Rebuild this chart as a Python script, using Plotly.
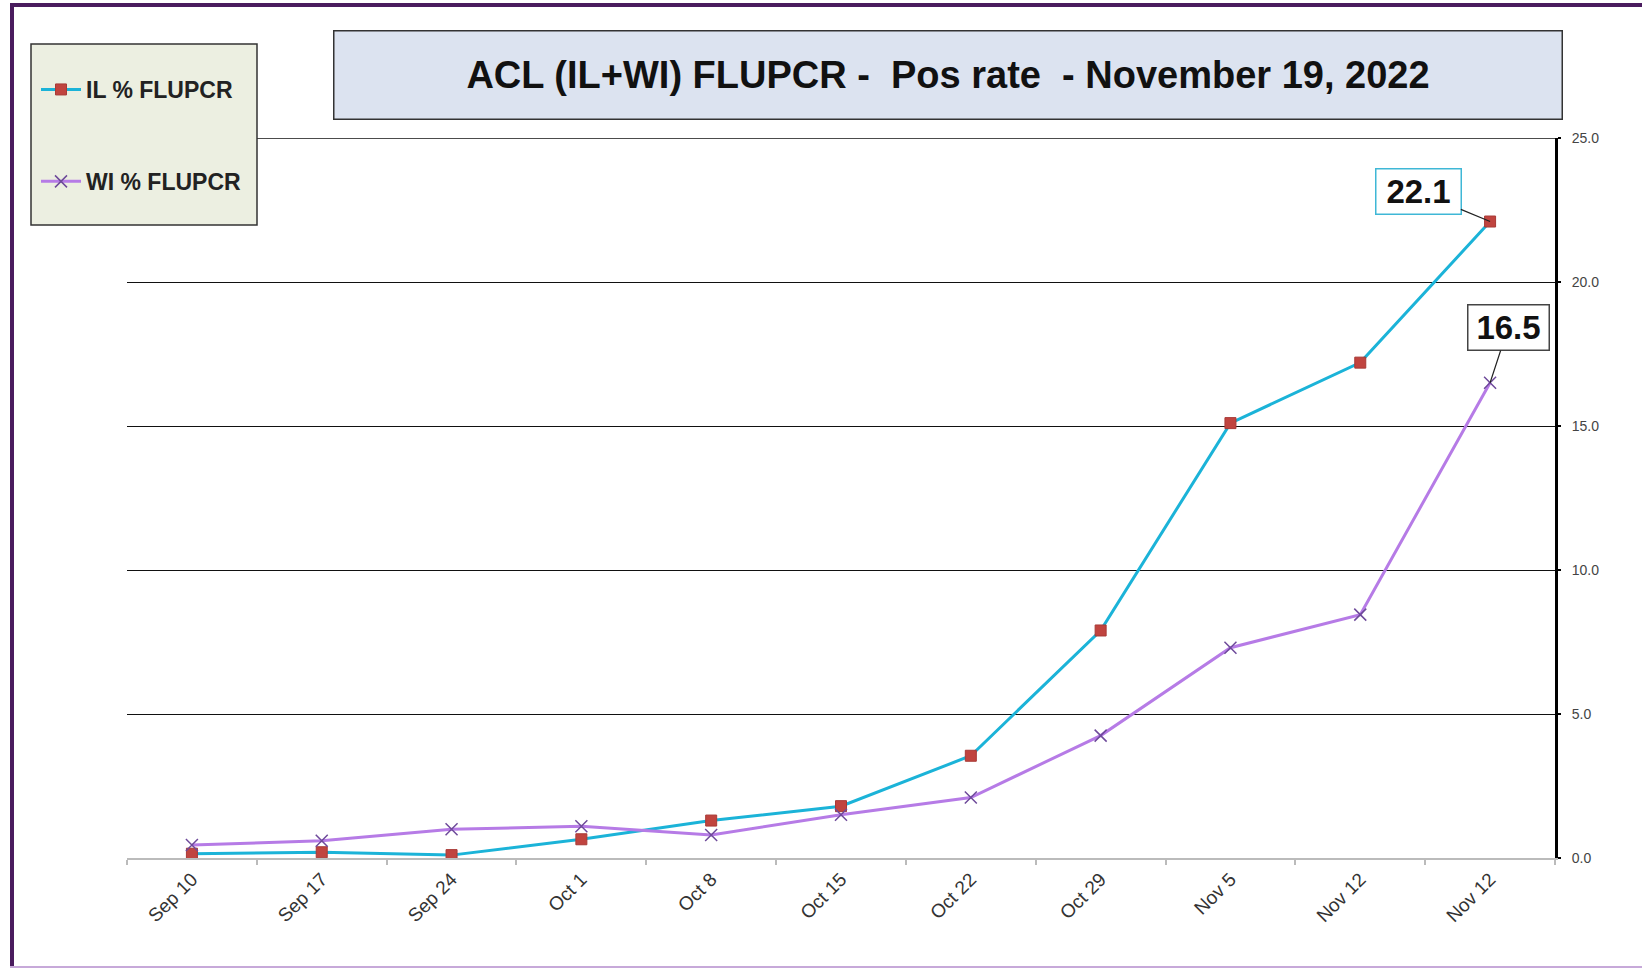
import plotly.graph_objects as go

categories = ["Sep 10", "Sep 17", "Sep 24", "Oct 1", "Oct 8", "Oct 15",
              "Oct 22", "Oct 29", "Nov 5", "Nov 12", "Nov 12"]
il_values = [0.15, 0.2, 0.1, 0.65, 1.3, 1.8, 3.55, 7.9, 15.1, 17.2, 22.1]
wi_values = [0.45, 0.6, 1.0, 1.1, 0.8, 1.5, 2.1, 4.25, 7.3, 8.45, 16.5]
y_ticks = [0, 5, 10, 15, 20, 25]

W, H = 1642, 969
L, R, T, B = 127, 1555, 138, 858   # plot area in page pixels
x_idx = list(range(len(categories)))


def px(x):
    return (x - L) / (R - L)


def py(y):
    return (B - y) / (B - T)


fig = go.Figure()
fig.add_trace(go.Scatter(
    x=x_idx, y=il_values, name="IL % FLUPCR", mode="lines+markers",
    legendgroup="il",
    line=dict(color="#1BB3D8", width=3),
    marker=dict(symbol="square", size=11, color="#C0443F",
                line=dict(color="#A83A36", width=1)),
))
fig.add_trace(go.Scatter(
    x=x_idx, y=wi_values, name="WI % FLUPCR", mode="lines+markers",
    legendgroup="wi",
    line=dict(color="#B67BE6", width=3),
    marker=dict(symbol="x-thin", size=12, color="#6E4A9A",
                line=dict(color="#6E4A9A", width=1.5)),
))

shapes = [
    # outer frame: left, top, bottom
    dict(type="line", xref="paper", yref="paper",
         x0=px(12), x1=px(12), y0=py(968), y1=py(5),
         line=dict(color="#4A1C5E", width=4), layer="below"),
    dict(type="line", xref="paper", yref="paper",
         x0=px(10), x1=px(1642), y0=py(5), y1=py(5),
         line=dict(color="#4A1C5E", width=4), layer="below"),
    dict(type="line", xref="paper", yref="paper",
         x0=px(10), x1=px(1642), y0=py(967), y1=py(967),
         line=dict(color="#C7A9D9", width=2), layer="below"),
    # top border line of the plot (25.0 gridline)
    dict(type="line", xref="paper", yref="y", x0=0, x1=1, y0=25, y1=25,
         line=dict(color="#111111", width=1.3), layer="below"),
    # legend box
    dict(type="rect", xref="paper", yref="paper",
         x0=px(31), x1=px(257), y0=py(225), y1=py(44),
         line=dict(color="#333333", width=1.5), fillcolor="#ECEFE1",
         layer="above"),
]

annotations = [
    dict(text="<b>ACL (IL+WI) FLUPCR -  Pos rate  - November 19, 2022</b>",
         xref="paper", yref="paper", x=px(333), y=py(30),
         xanchor="left", yanchor="top", showarrow=False,
         width=1227, height=87, bgcolor="#DCE3F0",
         bordercolor="#333333", borderwidth=1.5, borderpad=0,
         font=dict(family="Liberation Sans Narrow, Arial Narrow, Liberation Sans, Arial",
                   size=38, color="#111111")),
    dict(text="<b>22.1</b>", x=x_idx[-1], y=il_values[-1],
         xref="x", yref="y", showarrow=True, arrowhead=0, arrowwidth=1.2,
         arrowcolor="#222222", ax=-72, ay=-30,
         width=82, height=42, bgcolor="white",
         bordercolor="#3FB7D6", borderwidth=1.5,
         font=dict(family="Arial", size=33, color="#111111")),
    dict(text="<b>16.5</b>", x=x_idx[-1], y=wi_values[-1],
         xref="x", yref="y", showarrow=True, arrowhead=0, arrowwidth=1.2,
         arrowcolor="#222222", ax=18, ay=-55,
         width=78, height=42, bgcolor="white",
         bordercolor="#444444", borderwidth=1.5,
         font=dict(family="Arial", size=33, color="#111111")),
]

fig.update_layout(
    width=W, height=H,
    margin=dict(l=L, r=W - R, t=T, b=H - B, pad=0),
    paper_bgcolor="white", plot_bgcolor="white",
    showlegend=True,
    legend=dict(x=px(36), y=py(68), xanchor="left", yanchor="top",
                bgcolor="rgba(0,0,0,0)", borderwidth=0,
                tracegroupgap=59, itemwidth=40,
                font=dict(family="Arial", size=23, color="#222222", weight="bold")),
    shapes=shapes,
    annotations=annotations,
    font=dict(family="Arial"),
)

fig.update_xaxes(
    range=[-0.5, len(categories) - 0.5],
    tickmode="array", tickvals=x_idx, ticktext=categories,
    tickangle=-45, ticks="", showgrid=False, zeroline=False,
    showline=True, linecolor="#BBBBBB", linewidth=1.5,
    tickfont=dict(family="Arial", size=19, color="#333333"),
    ticklabelstandoff=1,
    minor=dict(tickmode="linear", tick0=-0.5, dtick=1, ticks="outside",
               ticklen=5, tickcolor="#BBBBBB", tickwidth=1.5, showgrid=False),
)
fig.update_yaxes(
    range=[0, 25], side="right",
    tickmode="array", tickvals=y_ticks, ticktext=[f"{v:.1f}" for v in y_ticks],
    showgrid=True, gridcolor="#111111", gridwidth=1.3, zeroline=False,
    showline=True, linecolor="#000000", linewidth=3,
    ticks="outside", ticklen=3, tickcolor="#000000", tickwidth=2,
    tickfont=dict(family="Arial", size=14, color="#444444"),
    ticklabelstandoff=8,
)

fig.write_html(
    "out.html",
    config={"displayModeBar": False},
    post_script="document.body.style.margin='0';document.body.style.overflow='hidden';",
)
